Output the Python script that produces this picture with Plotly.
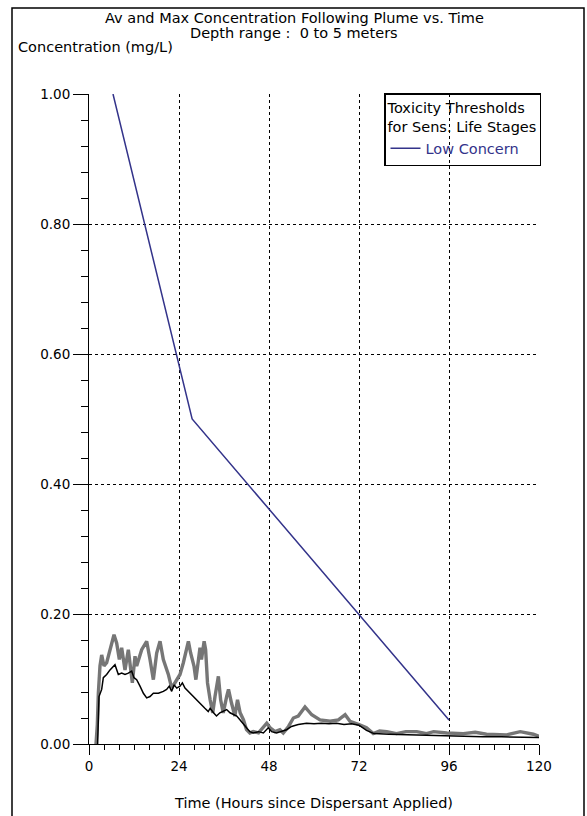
import plotly.graph_objects as go

# ---------------- data ----------------
max_hours = [1.87, 2.22, 2.49, 2.93, 3.38, 4.0, 4.71, 5.6, 6.67, 7.38, 8.09, 8.71, 9.6, 10.49,
             11.56, 12.27, 12.71, 14.05, 15.38, 16.27, 17.16, 18.05, 18.94, 19.82, 21.16, 22.05,
             22.94, 24.27, 25.16, 25.87, 26.5, 27.1, 28.0, 28.5, 29.2, 29.6, 30.0, 30.7, 31.1,
             31.6, 32.3, 33.0, 33.6, 34.5, 35.1, 35.8, 36.7, 37.2, 38.0, 38.9, 39.6, 40.3, 41.2,
             42.0, 42.9, 43.8, 45.2, 46.0, 47.4, 48.3, 49.6, 50.9, 51.8, 53.2, 54.5, 55.8, 57.6,
             59.4, 61.6, 64.3, 66.5, 68.3, 69.6, 72.0, 74.0, 75.8, 77.5, 79.4, 82.0, 84.5, 87.4,
             90.0, 91.9, 95.4, 99.8, 103.0, 106.0, 111.4, 115.0, 118.5, 120.0]
max_conc = [0.0, 0.030, 0.078, 0.120, 0.137, 0.120, 0.125, 0.145, 0.168, 0.155, 0.130, 0.148,
            0.114, 0.145, 0.094, 0.135, 0.120, 0.145, 0.158, 0.130, 0.099, 0.140, 0.158, 0.130,
            0.107, 0.086, 0.094, 0.107, 0.125, 0.140, 0.158, 0.140, 0.120, 0.099, 0.125, 0.148,
            0.130, 0.158, 0.145, 0.094, 0.068, 0.048, 0.073, 0.104, 0.068, 0.048, 0.073, 0.084,
            0.063, 0.043, 0.068, 0.048, 0.037, 0.022, 0.017, 0.019, 0.017, 0.022, 0.032, 0.025,
            0.019, 0.022, 0.017, 0.027, 0.040, 0.043, 0.057, 0.045, 0.037, 0.035, 0.037, 0.045,
            0.035, 0.030, 0.025, 0.016, 0.020, 0.019, 0.016, 0.019, 0.019, 0.016, 0.019, 0.017,
            0.016, 0.018, 0.015, 0.014, 0.019, 0.015, 0.012]

avg_hours = [2.3, 2.67, 3.38, 3.82, 4.71, 5.6, 6.93, 7.38, 7.82, 8.71, 9.6, 10.49, 11.38, 12.0,
             12.71, 13.6, 14.5, 15.38, 16.27, 17.16, 18.5, 19.82, 20.7, 21.4, 22.05, 22.7, 23.4,
             24.27, 24.9, 25.6, 26.5, 27.4, 28.3, 29.2, 30.0, 30.9, 31.8, 32.3, 33.2, 34.0, 34.9,
             35.8, 36.7, 37.6, 38.5, 39.4, 40.3, 41.2, 42.0, 42.9, 43.8, 45.2, 46.5, 47.8, 48.7,
             50.0, 51.4, 52.7, 54.0, 55.8, 58.0, 60.0, 62.0, 64.0, 66.0, 68.0, 70.0, 72.0, 74.0,
             76.0, 80.0, 85.0, 90.0, 95.0, 100.0, 105.0, 110.0, 115.0, 120.0]
avg_conc = [0.0, 0.073, 0.084, 0.102, 0.107, 0.114, 0.122, 0.114, 0.107, 0.109, 0.107, 0.109,
            0.112, 0.102, 0.099, 0.089, 0.078, 0.071, 0.073, 0.078, 0.078, 0.081, 0.084, 0.089,
            0.081, 0.091, 0.086, 0.089, 0.094, 0.086, 0.081, 0.076, 0.071, 0.066, 0.061, 0.055,
            0.050, 0.055, 0.048, 0.043, 0.048, 0.050, 0.053, 0.048, 0.045, 0.043, 0.037, 0.030,
            0.025, 0.019, 0.017, 0.019, 0.017, 0.025, 0.019, 0.017, 0.019, 0.022, 0.027, 0.030,
            0.032, 0.031, 0.032, 0.031, 0.032, 0.030, 0.031, 0.029, 0.021, 0.016, 0.015, 0.014,
            0.013, 0.013, 0.012, 0.011, 0.011, 0.011, 0.010]

low_concern_hours = [6.4, 27.5, 96.0]
low_concern_conc = [1.0, 0.50, 0.037]

x_ticks = [0, 24, 48, 72, 96, 120]

title_lines = ["Av and Max Concentration Following Plume vs. Time",
               "Depth range :  0 to 5 meters"]

# ---------------- figure ----------------
FONT = "DejaVu Sans"
fig = go.Figure()

fig.add_trace(go.Scatter(x=max_hours, y=max_conc, mode="lines",
                         line=dict(color="#767676", width=3.4), showlegend=False,
                         name="Max"))
fig.add_trace(go.Scatter(x=avg_hours, y=avg_conc, mode="lines",
                         line=dict(color="black", width=1.5), showlegend=False,
                         name="Average"))
fig.add_trace(go.Scatter(x=low_concern_hours, y=low_concern_conc, mode="lines",
                         line=dict(color="#33338a", width=1.5), name="Low Concern"))

L, R, T, B = 89, 48, 94, 72
W, H = 587, 816
pw, ph = W - L - R, H - T - B

def px_x(p):
    return (p - L) / pw

def px_y(p):
    return (H - B - p) / ph

fig.update_layout(
    width=W, height=H,
    margin=dict(l=L, r=R, t=T, b=B, autoexpand=False),
    paper_bgcolor="white", plot_bgcolor="white",
    font=dict(family=FONT, size=13, color="black"),
    xaxis=dict(range=[0, 120], tickvals=x_ticks, ticks="outside", ticklen=10, tickcolor="black",
               showline=True, linecolor="black", linewidth=1, zeroline=False, automargin=False,
               showgrid=True, gridcolor="black", griddash="dot", gridwidth=1,
               minor=dict(dtick=4, ticks="outside", ticklen=5, tickcolor="black", showgrid=False),
               title=dict(text="Time (Hours since Dispersant Applied)", standoff=24,
                          font=dict(family=FONT, size=14.5)),
               tickfont=dict(family=FONT, size=13.5)),
    yaxis=dict(range=[0, 1.0], dtick=0.2, tickformat=".2f", ticks="outside", ticklen=15,
               tickcolor="black", showline=True, linecolor="black", linewidth=1, zeroline=False,
               automargin=False,
               showgrid=True, gridcolor="black", griddash="dot", gridwidth=1,
               minor=dict(dtick=0.04, ticks="outside", ticklen=7, tickcolor="black", showgrid=False),
               tickfont=dict(family=FONT, size=13.5)),
    legend=dict(x=px_x(541), xanchor="right", y=px_y(93), yanchor="top",
                bgcolor="rgba(0,0,0,0)", bordercolor="black", borderwidth=1.5,
                font=dict(family=FONT, size=14.5, color="#33338a"),
                title=dict(text="Toxicity Thresholds<br>for Sens. Life Stages",
                           font=dict(family=FONT, size=14.5, color="black"), side="top"),
                itemwidth=30, tracegroupgap=0),
    showlegend=True,
)

for line, ypx in zip(title_lines, [18, 33]):
    fig.add_annotation(text=line, xref="paper", yref="paper",
                       x=px_x(294), y=px_y(ypx), xanchor="center", yanchor="middle",
                       showarrow=False, font=dict(family=FONT, size=14.5, color="black"))

fig.add_annotation(text="Concentration (mg/L)", xref="paper", yref="paper",
                   x=px_x(16), y=px_y(47), xanchor="left", yanchor="middle",
                   showarrow=False, font=dict(family=FONT, size=14.5, color="black"))

# outer frame of the picture
fig.add_shape(type="rect", xref="paper", yref="paper",
              x0=px_x(12), x1=px_x(584), y0=px_y(830), y1=px_y(8),
              line=dict(color="black", width=1.5), fillcolor="rgba(0,0,0,0)", layer="below")

fig.write_html("out.html", config={"displayModeBar": False},
               post_script="document.body.style.margin='0';document.body.style.overflow='hidden';")
